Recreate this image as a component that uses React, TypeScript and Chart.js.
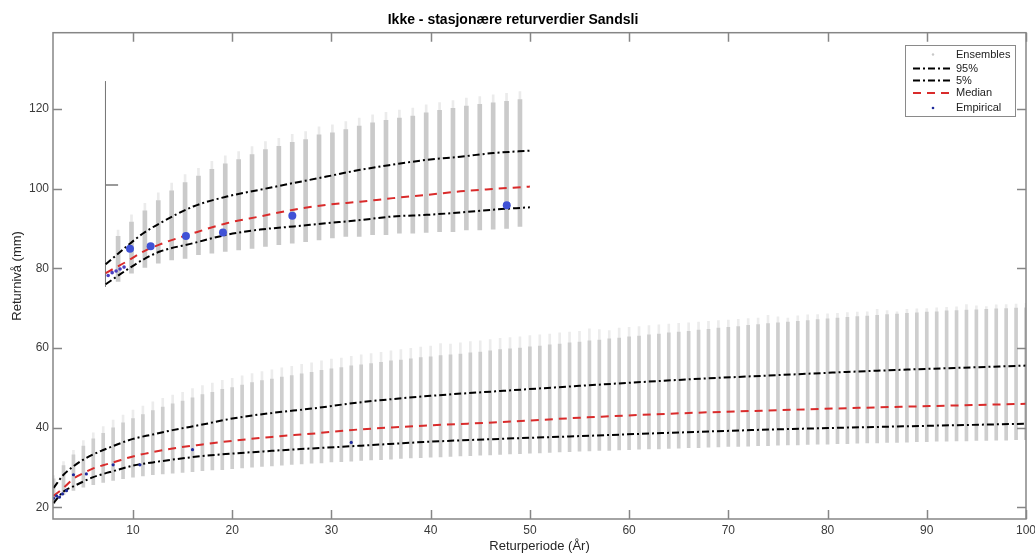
import { useEffect, useRef } from "react";
import { Chart, registerables } from "chart.js";

Chart.register(...registerables);

const titleText = "Ikke - stasjonære returverdier Sandsli";
const xAxisTitle = "Returperiode (År)";
const yAxisTitle = "Returnivå (mm)";
const legendLabels = ["Ensembles", "95%", "5%", "Median", "Empirical"];

const xTicks = [10, 20, 30, 40, 50, 60, 70, 80, 90, 100];
const yTicks = [20, 40, 60, 80, 100, 120];

// Lower ensemble (return periods 2..100)
const returnPeriods = [
  2, 3, 4, 5, 6, 7, 8, 9, 10, 11,
  12, 13, 14, 15, 16, 17, 18, 19, 20, 21,
  22, 23, 24, 25, 26, 27, 28, 29, 30, 31,
  32, 33, 34, 35, 36, 37, 38, 39, 40, 41,
  42, 43, 44, 45, 46, 47, 48, 49, 50, 51,
  52, 53, 54, 55, 56, 57, 58, 59, 60, 61,
  62, 63, 64, 65, 66, 67, 68, 69, 70, 71,
  72, 73, 74, 75, 76, 77, 78, 79, 80, 81,
  82, 83, 84, 85, 86, 87, 88, 89, 90, 91,
  92, 93, 94, 95, 96, 97, 98, 99, 100,
];
const ensembleLow = [
  21.0, 23.2, 24.3, 25.1, 25.7, 26.3, 26.8, 27.2, 27.6, 27.9,
  28.2, 28.4, 28.6, 28.8, 29.0, 29.2, 29.4, 29.5, 29.7, 29.9,
  30.1, 30.3, 30.4, 30.6, 30.8, 30.9, 31.1, 31.2, 31.4, 31.5,
  31.6, 31.8, 31.9, 32.0, 32.1, 32.3, 32.4, 32.5, 32.6, 32.7,
  32.8, 32.9, 33.0, 33.1, 33.2, 33.3, 33.4, 33.5, 33.6, 33.7,
  33.8, 33.9, 34.0, 34.1, 34.2, 34.3, 34.3, 34.4, 34.5, 34.6,
  34.7, 34.7, 34.8, 34.9, 35.0, 35.0, 35.1, 35.2, 35.3, 35.3,
  35.4, 35.5, 35.5, 35.6, 35.7, 35.7, 35.8, 35.9, 35.9, 36.0,
  36.0, 36.1, 36.2, 36.2, 36.3, 36.3, 36.4, 36.5, 36.5, 36.6,
  36.6, 36.7, 36.7, 36.8, 36.8, 36.9, 36.9, 37.0, 37.0,
];
const ensembleHigh = [
  27.2, 30.5, 33.2, 35.4, 37.2, 38.6, 40.0, 41.2, 42.3, 43.3,
  44.3, 45.2, 46.0, 46.7, 47.5, 48.3, 48.9, 49.6, 50.1, 50.7,
  51.3, 51.8, 52.2, 52.7, 53.1, 53.5, 53.9, 54.4, 54.8, 55.1,
  55.5, 55.8, 56.1, 56.4, 56.8, 57.0, 57.3, 57.6, 57.8, 58.1,
  58.3, 58.5, 58.8, 59.0, 59.3, 59.6, 59.8, 60.0, 60.3, 60.5,
  60.8, 61.0, 61.3, 61.5, 61.8, 62.0, 62.3, 62.5, 62.8, 63.0,
  63.3, 63.5, 63.8, 64.0, 64.2, 64.5, 64.7, 65.0, 65.2, 65.4,
  65.7, 65.9, 66.1, 66.3, 66.5, 66.7, 66.9, 67.1, 67.3, 67.5,
  67.7, 67.9, 68.0, 68.2, 68.4, 68.5, 68.7, 68.8, 69.0, 69.1,
  69.3, 69.4, 69.5, 69.6, 69.7, 69.8, 69.9, 70.0, 70.1,
];
const ensembleMax = [
  28.0, 31.5, 34.3, 36.8, 38.7, 40.3, 41.9, 43.2, 44.4, 45.4,
  46.5, 47.4, 48.2, 48.9, 49.8, 50.6, 51.2, 51.9, 52.4, 53.0,
  53.6, 54.1, 54.5, 55.0, 55.4, 55.9, 56.3, 56.8, 57.2, 57.5,
  57.9, 58.3, 58.6, 58.9, 59.3, 59.6, 59.9, 60.2, 60.5, 61.1,
  61.0, 61.3, 61.6, 61.8, 62.1, 62.4, 62.6, 62.8, 63.1, 63.3,
  63.5, 63.8, 64.0, 64.2, 64.8, 64.6, 64.4, 65.0, 65.2, 65.4,
  65.6, 65.8, 66.0, 66.2, 66.3, 66.5, 66.7, 66.9, 67.0, 67.2,
  67.4, 67.5, 68.2, 67.8, 67.5, 68.1, 68.3, 68.4, 68.6, 68.7,
  68.9, 69.0, 69.1, 69.7, 69.4, 69.1, 69.7, 69.8, 69.9, 70.1,
  70.2, 70.3, 70.9, 70.6, 70.4, 70.8, 70.9, 71.0, 71.2,
];

// Lower quantile curves
const curveYears = [2, 3, 4, 5, 6, 7, 8, 10, 12, 14, 17, 20, 24, 28, 33, 40, 47, 55, 65, 75, 85, 100];
const upper95 = [24.9, 28.2, 30.3, 32.0, 33.3, 34.4, 35.4, 37.2, 38.3, 39.4, 40.8, 42.3, 43.7, 44.8, 46.4, 48.0, 49.2, 50.5, 52.0, 53.2, 54.3, 55.6];
const median = [22.9, 24.9, 27.2, 28.6, 29.8, 30.6, 31.3, 32.8, 33.9, 34.8, 35.8, 36.7, 37.7, 38.5, 39.6, 40.6, 41.4, 42.5, 43.6, 44.4, 45.1, 46.0];
const lower5 = [21.1, 24.0, 25.3, 26.5, 27.6, 28.4, 29.1, 30.5, 31.3, 32.0, 32.9, 33.5, 34.2, 34.8, 35.5, 36.5, 37.2, 37.9, 38.8, 39.6, 40.2, 41.0];

const empiricalYears = [2.0, 2.3, 2.6, 2.9, 3.3, 4.0, 5.3, 8.0, 10.7, 16.0, 32.0];
const empiricalValues = [22.3, 22.9, 22.6, 23.4, 24.2, 28.2, 28.4, 30.7, 30.7, 34.5, 36.3];

// Upper (inset) ensemble
const insetYears = [8.5, 9.85, 11.2, 12.55, 13.9, 15.25, 16.6, 17.95, 19.3, 20.65, 22.0, 23.35, 24.7, 26.05, 27.4, 28.75, 30.1, 31.45, 32.8, 34.15, 35.5, 36.85, 38.2, 39.55, 40.9, 42.25, 43.6, 44.95, 46.3, 47.65, 49.0];
const insetLow = [76.7, 78.8, 80.2, 81.3, 82.1, 82.5, 83.4, 83.8, 84.2, 84.6, 85.0, 85.5, 85.9, 86.3, 86.7, 87.1, 87.6, 88.0, 88.0, 88.4, 88.4, 88.8, 88.8, 89.0, 89.2, 89.2, 89.6, 89.6, 89.8, 90.0, 90.5];
const insetHigh = [88.0, 91.6, 94.4, 97.0, 99.4, 101.5, 103.1, 104.8, 106.2, 107.3, 108.5, 109.8, 110.6, 111.6, 112.3, 113.5, 114.0, 114.8, 115.7, 116.5, 117.1, 117.7, 118.2, 119.0, 119.6, 120.1, 120.7, 121.1, 121.5, 121.9, 122.3];
const insetMax = [89.6, 93.4, 96.3, 98.9, 101.4, 103.5, 105.1, 106.8, 108.2, 109.3, 110.5, 111.8, 112.6, 113.6, 114.3, 115.5, 116.0, 116.8, 117.7, 118.5, 119.1, 119.7, 120.2, 121.0, 121.6, 122.1, 122.7, 123.1, 123.5, 123.9, 124.3];

const insetCurveYears = [7.25, 9.37, 11.04, 12.72, 16.08, 19.45, 22.8, 26.2, 29.5, 32.9, 36.2, 39.6, 43.0, 46.3, 50.0];
const insetUpper95 = [81.0, 85.5, 88.8, 91.3, 95.5, 98.0, 99.7, 101.4, 103.0, 104.7, 106.0, 107.2, 108.0, 108.9, 109.5];
const insetMedian = [78.8, 81.7, 84.2, 86.0, 88.8, 91.3, 93.0, 94.7, 95.9, 96.7, 97.6, 98.4, 99.3, 99.9, 100.5];
const insetLower5 = [76.0, 79.6, 82.2, 84.2, 86.3, 88.4, 89.7, 90.5, 91.3, 92.1, 93.0, 93.4, 94.0, 94.7, 95.3];

const insetEmpiricalYears = [9.7, 11.78, 15.34, 19.07, 26.06, 47.67];
const insetEmpiricalValues = [84.9, 85.5, 88.1, 89.0, 93.2, 95.8];
const insetSmallEmpiricalYears = [7.5, 7.9, 8.3, 8.7, 9.1];
const insetSmallEmpiricalValues = [78.2, 78.9, 79.3, 79.8, 80.3];

const insetFrameYears = [7.23, 7.23];
const insetFrameValues = [126.9, 75.4];
const insetMarkYears = [7.23, 8.5];
const insetMarkValues = [100.9, 100.9];

const FONT = "'Liberation Sans', Arial, Helvetica, sans-serif";
const DASH_DOT = [7, 3, 2, 3];
const DASH = [8, 6];
const RED = "#d92b2b";
const BLUE = "#4052d6";
const NAVY = "#1f2a9a";

const pts = (xs: number[], ys: number[]) => xs.map((x, i) => ({ x, y: ys[i] }));
const bars = (xs: number[], lo: number[], hi: number[]) => xs.map((x, i) => ({ x, y: [lo[i], hi[i]] }));

const boxPlugin = {
  id: "matlabBox",
  afterDatasetsDraw(chart: any) {
    const { ctx, chartArea } = chart;
    const { left, right, top, bottom } = chartArea;
    const xs = chart.scales.x;
    const ys = chart.scales.y;
    const tl = 9;
    ctx.save();
    ctx.strokeStyle = "#868686";
    ctx.lineWidth = 1.5;
    ctx.strokeRect(left, top, right - left, bottom - top);
    ctx.beginPath();
    xTicks.forEach((v) => {
      const p = Math.round(xs.getPixelForValue(v)) + 0.5;
      ctx.moveTo(p, bottom);
      ctx.lineTo(p, bottom - tl);
      ctx.moveTo(p, top);
      ctx.lineTo(p, top + tl);
    });
    yTicks.forEach((v) => {
      const p = Math.round(ys.getPixelForValue(v)) + 0.5;
      ctx.moveTo(left, p);
      ctx.lineTo(left + tl, p);
      ctx.moveTo(right, p);
      ctx.lineTo(right - tl, p);
    });
    ctx.stroke();
    ctx.restore();
  },
};

const legendPlugin = {
  id: "boxLegend",
  afterDraw(chart: any) {
    const { ctx } = chart;
    const bx = 905, by = 45, bw = 110, bh = 71;
    ctx.save();
    ctx.fillStyle = "#ffffff";
    ctx.fillRect(bx, by, bw, bh);
    ctx.strokeStyle = "#8a8a8a";
    ctx.lineWidth = 1;
    ctx.strokeRect(bx + 0.5, by + 0.5, bw, bh);
    const rows = [54.5, 68.5, 80.5, 93, 108];
    const lx0 = 913, lx1 = 952, tx = 956, mx = 933;
    ctx.fillStyle = "#c8c8c8";
    ctx.beginPath();
    ctx.arc(mx, rows[0], 1.2, 0, Math.PI * 2);
    ctx.fill();
    [1, 2].forEach((r) => {
      ctx.strokeStyle = "#000";
      ctx.lineWidth = 2;
      ctx.setLineDash(DASH_DOT);
      ctx.beginPath();
      ctx.moveTo(lx0, rows[r]);
      ctx.lineTo(lx1, rows[r]);
      ctx.stroke();
    });
    ctx.strokeStyle = RED;
    ctx.setLineDash(DASH);
    ctx.beginPath();
    ctx.moveTo(lx0, rows[3]);
    ctx.lineTo(lx1, rows[3]);
    ctx.stroke();
    ctx.setLineDash([]);
    ctx.fillStyle = NAVY;
    ctx.beginPath();
    ctx.arc(mx, rows[4], 1.3, 0, Math.PI * 2);
    ctx.fill();
    ctx.fillStyle = "#222";
    ctx.font = `11px ${FONT}`;
    ctx.textBaseline = "middle";
    ctx.textAlign = "left";
    legendLabels.forEach((t, i) => ctx.fillText(t, tx, rows[i]));
    ctx.restore();
  },
};

export default function App() {
  const ref = useRef<HTMLCanvasElement | null>(null);

  useEffect(() => {
    if (!ref.current) return;
    const lineDs = (data: any, color: string, dash: number[]) => ({
      type: "line",
      data,
      borderColor: color,
      borderWidth: 2,
      borderDash: dash,
      pointRadius: 0,
      fill: false,
      cubicInterpolationMode: "monotone",
      order: 2,
    });
    const barDs = (data: any, color: string, thickness: number) => ({
      type: "bar",
      data,
      backgroundColor: color,
      borderWidth: 0,
      barThickness: thickness,
      grouped: false,
      order: 10,
    });
    const chart = new Chart(ref.current, {
      type: "scatter",
      data: {
        datasets: [
          {
            type: "scatter",
            data: pts(insetEmpiricalYears, insetEmpiricalValues),
            backgroundColor: BLUE,
            borderWidth: 0,
            pointRadius: 4,
            order: 0,
          },
          {
            type: "scatter",
            data: pts(insetSmallEmpiricalYears, insetSmallEmpiricalValues),
            backgroundColor: "#4a3fc0",
            borderWidth: 0,
            pointRadius: 1.8,
            order: 0,
          },
          {
            type: "scatter",
            data: pts(empiricalYears, empiricalValues),
            backgroundColor: NAVY,
            borderWidth: 0,
            pointRadius: 1.6,
            order: 0,
          },
          lineDs(pts(curveYears, median), RED, DASH),
          lineDs(pts(curveYears, upper95), "#000", DASH_DOT),
          lineDs(pts(curveYears, lower5), "#000", DASH_DOT),
          lineDs(pts(insetCurveYears, insetMedian), RED, DASH),
          lineDs(pts(insetCurveYears, insetUpper95), "#000", DASH_DOT),
          lineDs(pts(insetCurveYears, insetLower5), "#000", DASH_DOT),
          {
            type: "line",
            data: pts(insetFrameYears, insetFrameValues),
            borderColor: "#7a7a7a",
            borderWidth: 1,
            pointRadius: 0,
            order: 3,
          },
          {
            type: "line",
            data: pts(insetMarkYears, insetMarkValues),
            borderColor: "#9a9a9a",
            borderWidth: 2,
            pointRadius: 0,
            order: 3,
          },
          barDs(bars(insetYears, insetLow, insetHigh), "#cacaca", 4),
          barDs(bars(insetYears, insetHigh, insetMax), "#ebebeb", 2),
          barDs(bars(returnPeriods, ensembleLow, ensembleHigh), "#cecece", 3),
          barDs(bars(returnPeriods, ensembleHigh, ensembleMax), "#ececec", 2),
        ] as any,
      },
      options: {
        responsive: false,
        animation: false,
        events: [],
        layout: { padding: { left: 0, right: 9, top: 0, bottom: 0 } },
        plugins: {
          legend: { display: false },
          tooltip: { enabled: false },
          title: {
            display: true,
            text: titleText,
            color: "#000",
            font: { family: FONT, size: 14, weight: "bold" },
            padding: { top: 11.6, bottom: 4.3 },
          },
        },
        scales: {
          x: {
            type: "linear",
            min: 1.94,
            max: 100,
            offset: false,
            grid: { display: false, drawTicks: false },
            border: { display: false },
            ticks: {
              color: "#3a3a3a",
              font: { family: FONT, size: 12 },
              padding: 4.3,
              maxRotation: 0,
              autoSkip: false,
            },
            title: {
              display: true,
              text: xAxisTitle,
              color: "#262626",
              font: { family: FONT, size: 13 },
              padding: { top: 0, bottom: 0 },
            },
            afterBuildTicks: (s: any) => {
              s.ticks = xTicks.map((v) => ({ value: v }));
            },
            afterFit: (s: any) => {
              s.height = 35;
              s.paddingLeft = 0;
              s.paddingRight = 0;
            },
          },
          y: {
            type: "linear",
            min: 17.1,
            max: 139.1,
            grid: { display: false, drawTicks: false },
            border: { display: false },
            ticks: {
              color: "#3a3a3a",
              font: { family: FONT, size: 12 },
              padding: 4,
            },
            title: {
              display: true,
              text: yAxisTitle,
              color: "#262626",
              font: { family: FONT, size: 13 },
              padding: { top: 9.2, bottom: 0 },
            },
            afterBuildTicks: (s: any) => {
              s.ticks = yTicks.map((v) => ({ value: v }));
            },
            afterFit: (s: any) => {
              s.width = 53;
              s.paddingTop = 0;
              s.paddingBottom = 0;
            },
          },
        },
      } as any,
      plugins: [boxPlugin, legendPlugin],
    });
    return () => chart.destroy();
  }, []);

  return (
    <div style={{ position: "absolute", left: 0, top: 0, width: 1035, height: 554, background: "#fff" }}>
      <canvas ref={ref} width={1035} height={554} style={{ display: "block" }} />
    </div>
  );
}
